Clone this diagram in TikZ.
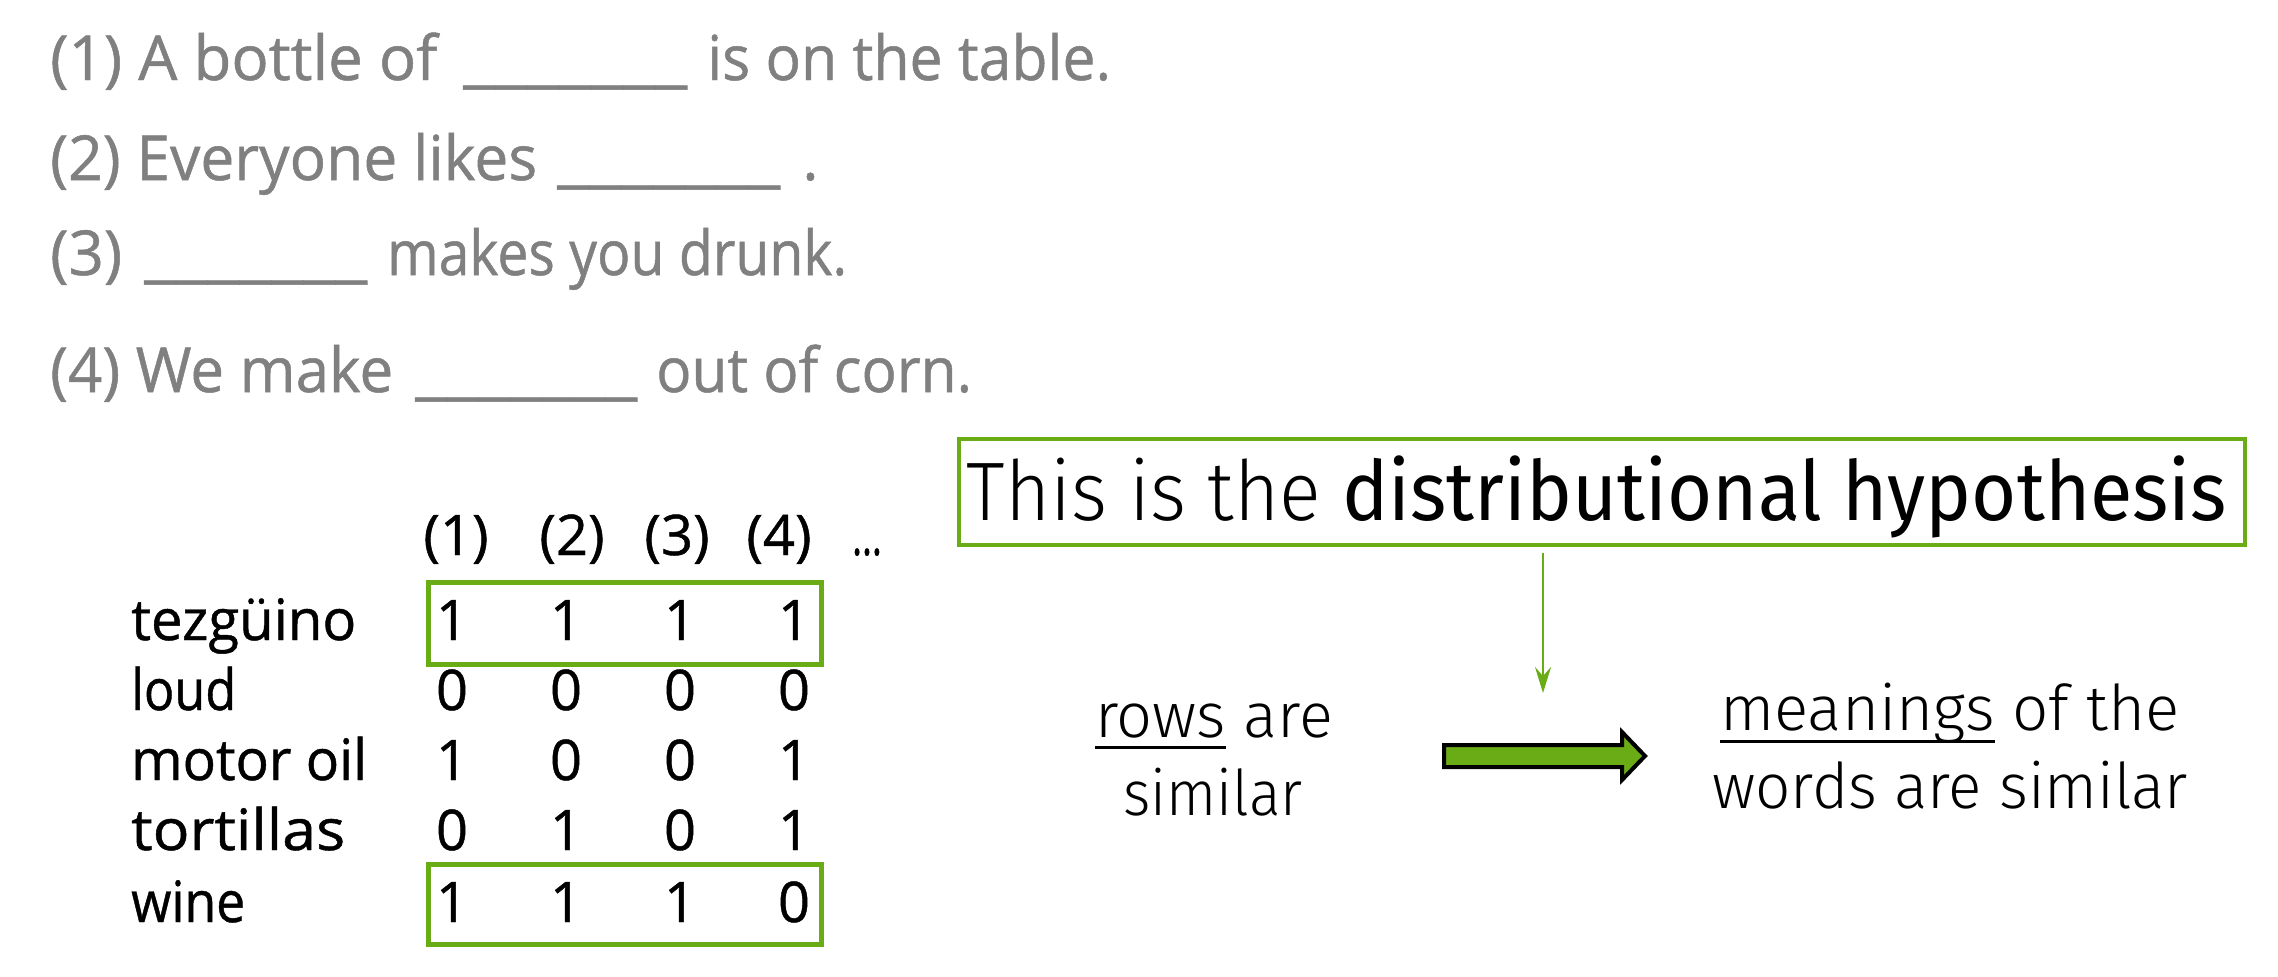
\documentclass[tikz,border=0pt]{standalone}
\usepackage{fontspec}
\setmainfont{Open Sans}
\newfontfamily\comic{Open Sans}[FakeBold=0.8]
\newfontfamily\lightsans{Fira Sans Light}
\newfontfamily\medsans{Fira Sans}
\usetikzlibrary{arrows.meta}
\definecolor{dgreen}{RGB}{106,172,22}
\definecolor{txtgray}{RGB}{128,128,128}
\newsavebox\fitbox
\newsavebox\ulbox
\newcommand\fitw[2]{\sbox\fitbox{#2}\scalebox{\fpeval{round((#1)/(\the\wd\fitbox),4)}}[1]{\usebox\fitbox}}
\newcommand\myul[2][-13pt]{\sbox\ulbox{#2}\rlap{\rule[#1]{\wd\ulbox}{3.5pt}}\usebox\ulbox}
\tikzset{
  sent/.style={anchor=base west, inner sep=0pt, text=txtgray, font=\comic\fontsize{62}{70}\selectfont},
  hdr/.style={anchor=base, inner sep=0pt, font=\comic\fontsize{56}{60}\selectfont},
  word/.style={anchor=base west, inner sep=0pt, font=\comic\fontsize{57}{60}\selectfont},
  num/.style={anchor=base, inner sep=0pt, font=\comic\fontsize{56}{60}\selectfont},
  rowbox/.style={draw=dgreen, line width=5pt, minimum width=393pt, inner sep=0pt},
  hypbox/.style={draw=dgreen, line width=4pt, minimum width=1286pt, minimum height=106pt, inner sep=0pt},
  light/.style={anchor=base, inner sep=0pt, font=\lightsans\fontsize{63}{70}\selectfont},
  thinarrow/.style={draw=dgreen, line width=2.5pt, -{Stealth[length=26pt,width=16pt,inset=9pt]}},
  bigarrow/.style={draw=black, fill=dgreen, line width=4pt, line join=miter},
}
\begin{document}
\begin{tikzpicture}[x=1pt,y=-1pt]
\useasboundingbox (0,0) rectangle (2278,977);
% sentences
\node[sent] (s1a) at (50,80) {\fitw{387pt}{(1) A bottle of}};
\node[sent] (s1b) at (463,80) {\fitw{224pt}{\_\_\_\_\_\_\_}};
\node[sent] (s1c) at (707,80) {\fitw{404pt}{is on the table.}};
\node[sent] (s2a) at (50,180) {\fitw{487pt}{(2) Everyone likes}};
\node[sent] (s2b) at (557,180) {\fitw{223pt}{\_\_\_\_\_\_\_}};
\node[sent] (s2c) at (802,180) {.};
\node[sent] (s3a) at (50,275) {\fitw{72pt}{(3)}};
\node[sent] (s3b) at (144,275) {\fitw{223pt}{\_\_\_\_\_\_\_}};
\node[sent] (s3c) at (387,275) {\fitw{460pt}{makes you drunk.}};
\node[sent] (s4a) at (50,392) {\fitw{343pt}{(4) We make}};
\node[sent] (s4b) at (415,392) {\fitw{222pt}{\_\_\_\_\_\_\_}};
\node[sent] (s4c) at (656,392) {\fitw{316pt}{out of corn.}};
% matrix headers
\node[hdr] (h1) at (456,555) {(1)};
\node[hdr] (h2) at (572,555) {(2)};
\node[hdr] (h3) at (677,555) {(3)};
\node[hdr] (h4) at (779,555) {(4)};
\node[hdr] (h5) at (867,555) {\fitw{30pt}{…}};
% row labels
\node[word] (w1) at (131,640) {\fitw{225pt}{tezgüino}};
\node[word] (w2) at (131,710) {\fitw{105pt}{loud}};
\node[word] (w3) at (131,780) {\fitw{236pt}{motor oil}};
\node[word] (w4) at (131,850) {\fitw{214pt}{tortillas}};
\node[word] (w5) at (131,922) {\fitw{114pt}{wine}};
% values
\foreach \r/\y/\a/\b/\c/\d in {1/640/1/1/1/1, 2/710/0/0/0/0, 3/780/1/0/0/1, 4/850/0/1/0/1, 5/922/1/1/1/0}{
  \node[num] (v\r-1) at (452,\y) {\a};
  \node[num] (v\r-2) at (566,\y) {\b};
  \node[num] (v\r-3) at (680,\y) {\c};
  \node[num] (v\r-4) at (794,\y) {\d};
}
\node[rowbox, minimum height=82pt] (box1) at (625,623.5) {};
\node[rowbox, minimum height=80pt] (box2) at (625,904.5) {};
% hypothesis
\node[hypbox] (hyp) at (1602,492) {};
\node[anchor=base, inner sep=0pt, font=\lightsans\fontsize{83}{90}\selectfont] (hyptext) at (1597,520)
  {\fitw{1260pt}{This is the \medsans distributional hypothesis}};
\coordinate (tip) at (1543,693);
\draw[thinarrow, shorten <=6pt] (hyp.south -| tip) -- (tip);
% rows are similar
\node[light] (r1) at (1214,737) {\fitw{238pt}{\myul[-12pt]{rows} are}};
\node[light] (r2) at (1213,815) {\fitw{179pt}{similar}};
\node[light] (m1) at (1950,730) {\fitw{460pt}{\myul{meanings} of the}};
\node[light] (m2) at (1950,808) {\fitw{476pt}{words are similar}};
% big arrow
\draw[bigarrow] (1444,745) -- (1622,745) -- (1622,732) -- (1645,756) -- (1622,780) -- (1622,767) -- (1444,767) -- cycle;
\end{tikzpicture}
\end{document}
